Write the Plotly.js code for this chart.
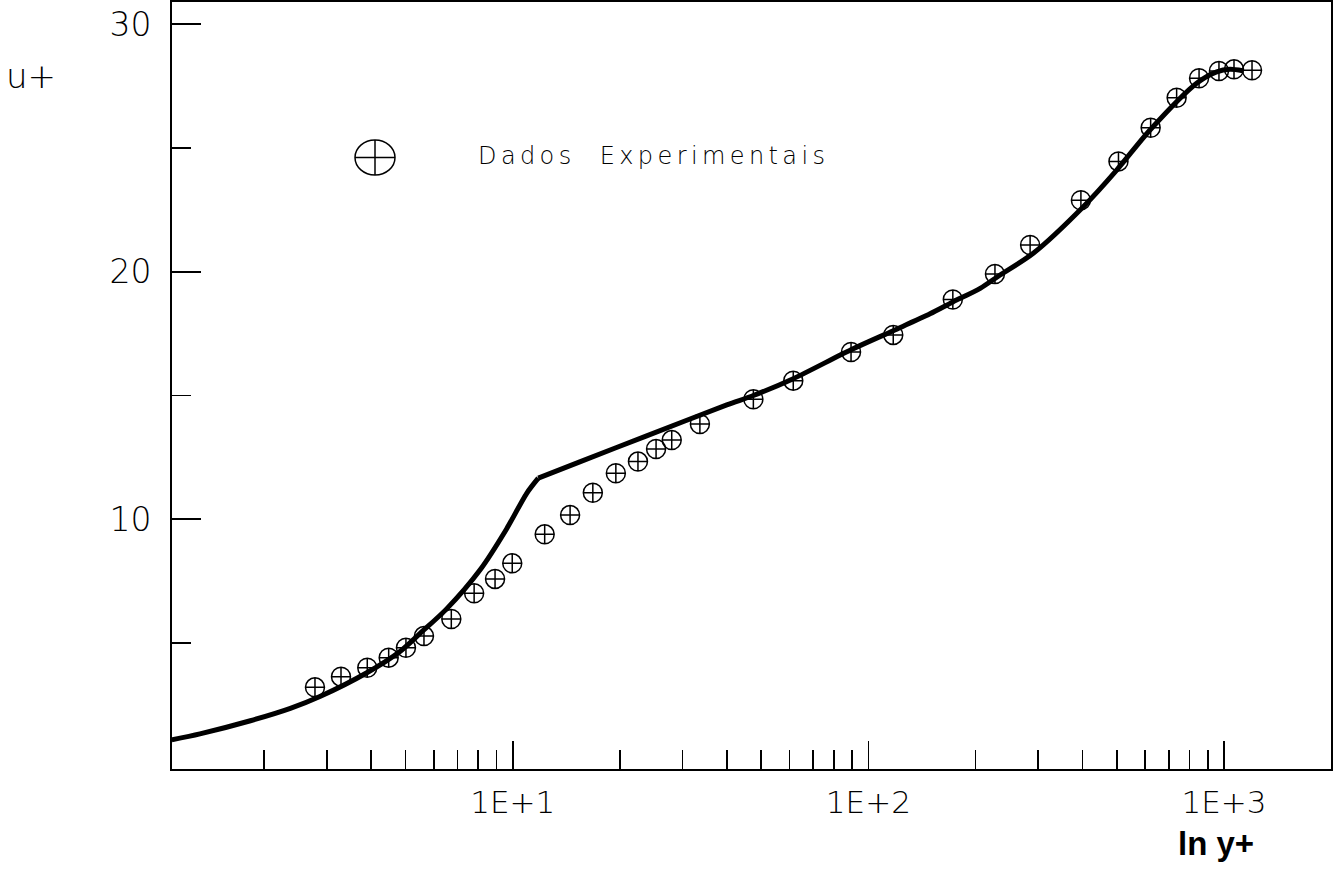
<!DOCTYPE html>
<html>
<head>
<meta charset="utf-8">
<script src="https://cdn.plot.ly/plotly-3.0.1.min.js"></script>
<style>
  html, body { margin: 0; padding: 0; background: #fff; }
  #chart { width: 1333px; height: 875px; }
  g.annotation[data-index="0"] text { letter-spacing: 4.4px; }
</style>
</head>
<body>
<div id="chart"></div>
<script>
// Experimental data (y+, u+)
const expYplus = [2.78, 3.29, 3.90, 4.48, 5.01, 5.63, 6.72, 7.79, 8.92, 9.97, 12.3, 14.5, 16.8, 19.5, 22.5, 25.3, 28.0, 33.6, 47.5, 61.5, 89.4, 117.5, 172.8, 227, 285, 396, 505, 622, 736, 851, 968, 1067, 1199];
const expUplus = [3.21, 3.64, 4.00, 4.41, 4.81, 5.28, 5.97, 7.01, 7.59, 8.22, 9.39, 10.17, 11.07, 11.86, 12.33, 12.84, 13.20, 13.85, 14.85, 15.60, 16.76, 17.45, 18.88, 19.91, 21.08, 22.89, 24.46, 25.82, 27.03, 27.82, 28.11, 28.18, 28.14];

// Computed profile (y+, u+): inner part up to the kink, then outer part
const innerYplus = [1.1, 1.32, 1.83, 2.37, 2.87, 3.89, 4.82, 5.49, 6.52, 8.09, 9.62, 10.95, 11.8];
const innerUplus = [1.09, 1.33, 1.86, 2.36, 2.84, 3.80, 4.66, 5.39, 6.38, 7.95, 9.62, 11.05, 11.66];
const outerYplus = [11.8, 15.5, 23.8, 40.0, 47.5, 61.5, 89.4, 117.5, 149.1, 172.8, 206.3, 234.6, 290.9, 402.2, 499.3, 619.4, 837.9, 954, 1040, 1129];
const outerUplus = [11.66, 12.33, 13.37, 14.62, 15.0, 15.68, 16.85, 17.62, 18.30, 18.78, 19.33, 19.87, 20.75, 22.63, 24.11, 25.73, 27.62, 28.08, 28.18, 28.12];

// Ticks
const xMajorVals = [10, 100, 1000];
const xMajorText = ["1E+1", "1E+2", "1E+3"];
const xMinorVals = [2,3,4,5,6,7,8,9,20,30,40,50,60,70,80,90,200,300,400,500,600,700,800,900];
const yMajorVals = [10, 20, 30];
const yMinorVals = [5, 15, 25];

const legendLabel = "Dados\u00A0\u00A0Experimentais";
const xTitle = "ln y+";
const yTitle = "u+";

const thinFont = "DejaVu Sans, Liberation Sans, sans-serif";

const lineStyle = { color: "#000", width: 5, shape: "spline", smoothing: 0.8 };

const traces = [
  { x: innerYplus, y: innerUplus, type: "scatter", mode: "lines", line: lineStyle, showlegend: false, hoverinfo: "skip" },
  { x: outerYplus, y: outerUplus, type: "scatter", mode: "lines", line: lineStyle, showlegend: false, hoverinfo: "skip" },
  {
    x: expYplus, y: expUplus,
    type: "scatter", mode: "markers",
    marker: { symbol: "circle-cross-open", size: 19, color: "#000", line: { color: "#000", width: 1.5 } },
    showlegend: false
  }
];

const legX = (375 - 172) / 1159;
const legY = (769 - 157.5) / 767;

const layout = {
  width: 1333, height: 875,
  margin: { l: 172, r: 2, t: 2, b: 106 },
  paper_bgcolor: "#fff", plot_bgcolor: "#fff",
  showlegend: false,
  xaxis: {
    type: "log",
    range: [0.0420, 3.3009],
    showline: true, mirror: true, linecolor: "#000", linewidth: 2,
    showgrid: false, zeroline: false,
    tickmode: "array", tickvals: xMajorVals, ticktext: xMajorText,
    ticks: "inside", ticklen: 28, tickwidth: 1.6, tickcolor: "#000",
    ticklabelstandoff: 5,
    tickfont: { family: thinFont, size: 31, color: "#000", weight: 200 },
    minor: { tickmode: "array", tickvals: xMinorVals, ticks: "inside", ticklen: 19, tickwidth: 1.6, tickcolor: "#000", showgrid: false }
  },
  yaxis: {
    range: [-0.09, 30.90],
    showline: true, mirror: true, linecolor: "#000", linewidth: 2,
    showgrid: false, zeroline: false,
    tickmode: "array", tickvals: yMajorVals,
    ticks: "inside", ticklen: 29, tickwidth: 1.6, tickcolor: "#000",
    ticklabelstandoff: 12,
    tickfont: { family: thinFont, size: 33, color: "#000", weight: 200 },
    minor: { tickmode: "array", tickvals: yMinorVals, ticks: "inside", ticklen: 19, tickwidth: 1.6, tickcolor: "#000", showgrid: false }
  },
  shapes: [
    { type: "circle", xref: "paper", yref: "paper", xsizemode: "pixel", ysizemode: "pixel",
      xanchor: legX, yanchor: legY, x0: -20, x1: 20, y0: -17.5, y1: 17.5,
      line: { color: "#000", width: 1.5 } },
    { type: "line", xref: "paper", yref: "paper", xsizemode: "pixel", ysizemode: "pixel",
      xanchor: legX, yanchor: legY, x0: -20, x1: 20, y0: 0, y1: 0,
      line: { color: "#000", width: 1.5 } },
    { type: "line", xref: "paper", yref: "paper", xsizemode: "pixel", ysizemode: "pixel",
      xanchor: legX, yanchor: legY, x0: 0, x1: 0, y0: -17.5, y1: 17.5,
      line: { color: "#000", width: 1.5 } }
  ],
  annotations: [
    { text: legendLabel, xref: "paper", yref: "paper",
      x: (477 - 172) / 1159, y: (769 - 156) / 767, xanchor: "left", yanchor: "middle", align: "left",
      showarrow: false, borderpad: 0,
      font: { family: thinFont, size: 24, color: "#000", weight: 200 } },
    { text: yTitle, xref: "paper", yref: "paper",
      x: (31 - 172) / 1159, y: (769 - 76) / 767, xanchor: "center", yanchor: "middle",
      showarrow: false, borderpad: 0,
      font: { family: thinFont, size: 34, color: "#000", weight: 200 } },
    { text: xTitle, xref: "paper", yref: "paper",
      x: (1216 - 172) / 1159, y: (769 - 843) / 767, xanchor: "center", yanchor: "middle",
      showarrow: false, borderpad: 0,
      font: { family: "Liberation Sans, Arial, sans-serif", size: 33, color: "#000", weight: 700 } }
  ]
};

Plotly.newPlot("chart", traces, layout, { staticPlot: true, displayModeBar: false });
</script>
</body>
</html>
